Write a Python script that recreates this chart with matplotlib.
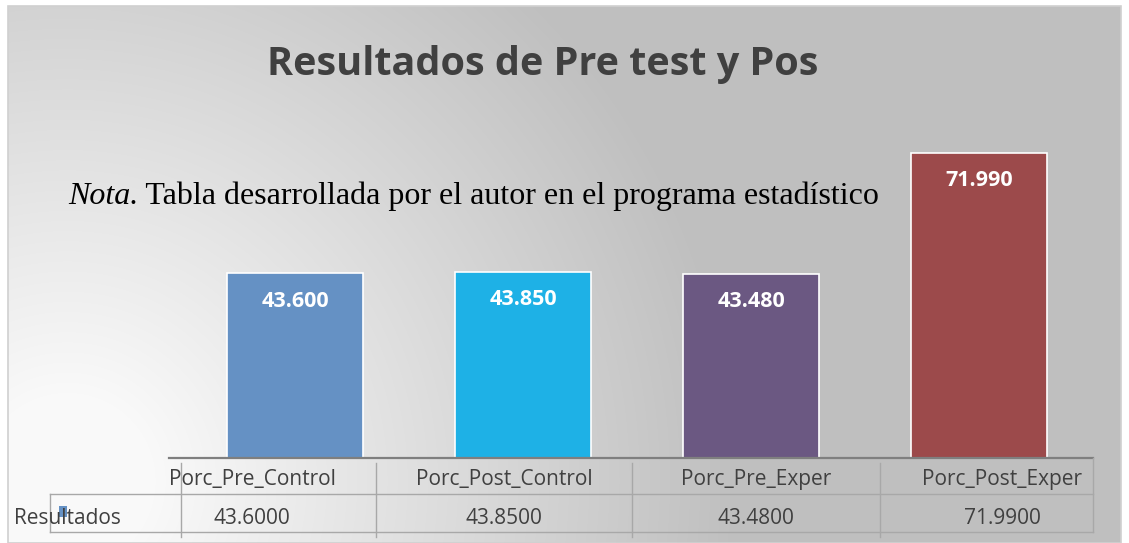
import numpy as np
import matplotlib
matplotlib.use("Agg")
import matplotlib.pyplot as plt
from matplotlib.patches import Rectangle

categories = ["Porc_Pre_Control", "Porc_Post_Control", "Porc_Pre_Exper", "Porc_Post_Exper"]
values = [43.60, 43.85, 43.48, 71.99]
bar_labels = ["43.600", "43.850", "43.480", "71.990"]
table_values = ["43.6000", "43.8500", "43.4800", "71.9900"]
series_name = "Resultados"
title = "Resultados de Pre test y Pos"
note_italic = "Nota."
note_rest = " Tabla desarrollada por el autor en el programa estadístico"

colors = ["#6591c4", "#1eb1e6", "#6b5882", "#9c4a4b"]
W, H = 1129, 543

fig = plt.figure(figsize=(W / 100, H / 100), dpi=100)
fig.patch.set_facecolor("white")

# background: radial gradient, white at bottom-left fading to grey
bg = fig.add_axes([0, 0, 1, 1], zorder=0)
xx, yy = np.meshgrid(np.arange(W), np.arange(H))
d = np.hypot(xx - 60, yy - 480)
t = np.clip((d - 80) / 600, 0, 1)
v = 0.98 - 0.23 * t
img = np.dstack([v, v, v])
bg.imshow(img, extent=(8, 1121, H, 6), aspect="auto", interpolation="bilinear")
bg.add_patch(Rectangle((8, 6), 1113, H - 6, fill=False, edgecolor="#d0d0d0", lw=1.2))
bg.set_xlim(0, W)
bg.set_ylim(H, 0)
bg.axis("off")

# bars
ax = fig.add_axes([181 / W, (H - 458) / H, (1093 - 181) / W, (458 - 119) / H], zorder=2)
ax.patch.set_alpha(0)
x = np.arange(len(categories))
bars = ax.bar(x, values, width=0.6, color=colors, edgecolor="white", linewidth=1.2)
ax.set_xlim(-0.5, 3.5)
ax.set_ylim(0, 80)
ax.axis("off")
for b, lab in zip(bars, bar_labels):
    ax.annotate(lab, (b.get_x() + b.get_width() / 2, b.get_height()),
                xytext=(0, -20), textcoords="offset points", ha="center", va="center",
                color="white", fontsize=15.5, fontweight="bold", family="Open Sans")

# overlay: title, note, data table
ov = fig.add_axes([0, 0, 1, 1], zorder=3)
ov.patch.set_alpha(0)
ov.set_xlim(0, W)
ov.set_ylim(H, 0)
ov.axis("off")

ov.text(543, 64, title, ha="center", va="center", fontsize=28.5, fontweight="bold",
        color="#404040", family="Open Sans")

t1 = ov.text(68, 196, note_italic, ha="left", va="center", fontsize=23,
             family="Liberation Serif", style="italic", color="black")
ov.annotate(note_rest, xy=(1, 0.5), xycoords=t1, ha="left", va="center", fontsize=23,
            family="Liberation Serif", color="black")

# table lines
line_c = "#a8a8a8"
ov.plot([169, 1093], [458, 458], color="#7f7f7f", lw=1.6)
ov.plot([50, 1093], [494, 494], color=line_c, lw=1)
ov.plot([50, 1093], [532, 532], color=line_c, lw=1)
ov.plot([50, 50], [494, 532], color=line_c, lw=1)
for cx in [181, 376, 632, 880]:
    ov.plot([cx, cx], [463, 537], color=line_c, lw=1)
ov.plot([1093, 1093], [458, 532], color=line_c, lw=1)

col_centers = [252, 504, 756, 1002]
for cx, cat, tv in zip(col_centers, categories, table_values):
    ov.text(cx, 480, cat, ha="center", va="center", fontsize=15, color="#404040", family="Open Sans")
    ov.text(cx, 518, tv, ha="center", va="center", fontsize=15, color="#404040", family="Open Sans")

ov.add_patch(Rectangle((59, 506), 8, 11, facecolor=colors[0], edgecolor="none"))
ov.text(14, 518, series_name, ha="left", va="center", fontsize=15, color="#404040", family="Open Sans")

fig.savefig("out.png", dpi=100)
